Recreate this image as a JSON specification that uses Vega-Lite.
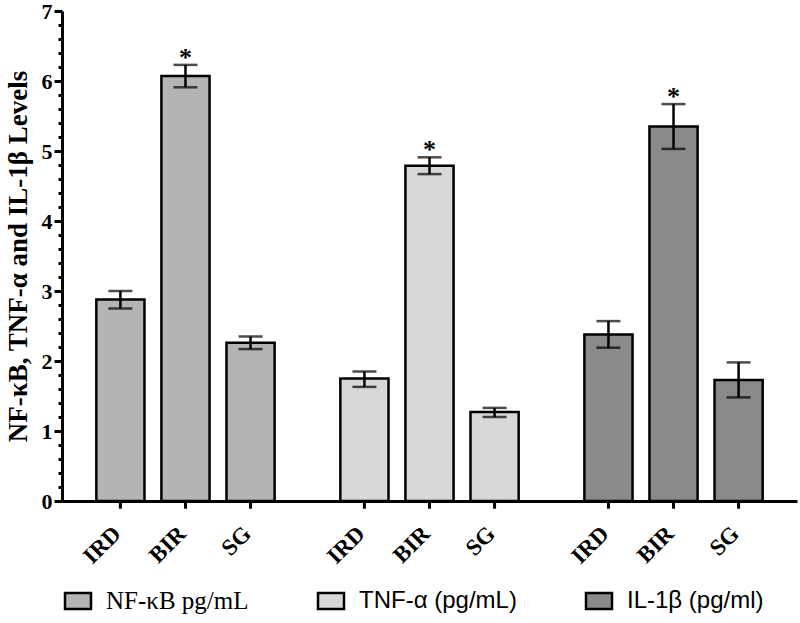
{
  "$schema": "https://vega.github.io/schema/vega-lite/v6.json",
  "autosize": {"type": "none"},
  "width": 735,
  "height": 490,
  "padding": {"left": 62, "top": 11, "right": 3, "bottom": 122},
  "background": "white",
  "config": {"view": {"stroke": null}, "font": "Liberation Serif"},
  "data": {
    "values": [
      {"cytokine": "NF-κB pg/mL", "group": "IRD", "mean": 2.88, "lo": 2.75, "hi": 3.00},
      {"cytokine": "NF-κB pg/mL", "group": "BIR", "mean": 6.07, "lo": 5.91, "hi": 6.23},
      {"cytokine": "NF-κB pg/mL", "group": "SG", "mean": 2.26, "lo": 2.17, "hi": 2.35},
      {"cytokine": "TNF-α (pg/mL)", "group": "IRD", "mean": 1.75, "lo": 1.63, "hi": 1.85},
      {"cytokine": "TNF-α (pg/mL)", "group": "BIR", "mean": 4.79, "lo": 4.67, "hi": 4.91},
      {"cytokine": "TNF-α (pg/mL)", "group": "SG", "mean": 1.27, "lo": 1.20, "hi": 1.33},
      {"cytokine": "IL-1β (pg/ml)", "group": "IRD", "mean": 2.38, "lo": 2.19, "hi": 2.57},
      {"cytokine": "IL-1β (pg/ml)", "group": "BIR", "mean": 5.35, "lo": 5.03, "hi": 5.67},
      {"cytokine": "IL-1β (pg/ml)", "group": "SG", "mean": 1.73, "lo": 1.48, "hi": 1.98}
    ]
  },
  "encoding": {
    "x": {
      "field": "cytokine", "type": "nominal",
      "scale": {"domain": ["NF-κB pg/mL", "TNF-α (pg/mL)", "IL-1β (pg/ml)"], "paddingInner": 0.2, "paddingOuter": 0.106},
      "axis": {"labels": false, "ticks": false, "title": null, "domainWidth": 3, "domainColor": "black"}
    },
    "xOffset": {
      "field": "group", "type": "nominal",
      "scale": {"domain": ["IRD", "BIR", "SG"], "paddingInner": 0.26, "paddingOuter": 0.13}
    }
  },
  "resolve": {"axis": {"y": "independent"}},
  "layer": [
    {
      "layer": [
        {
          "mark": {"type": "bar", "stroke": "black", "strokeWidth": 2.5},
          "encoding": {
            "y": {
              "field": "mean", "type": "quantitative",
              "scale": {"domain": [0, 7], "nice": false},
              "axis": {
                "orient": "left",
                "values": [0, 1, 2, 3, 4, 5, 6, 7],
                "format": "d",
                "tickSize": 8, "tickWidth": 3, "tickColor": "black",
                "domainWidth": 3, "domainColor": "black",
                "labelFont": "Liberation Serif", "labelFontWeight": "bold", "labelFontSize": 22, "labelColor": "black",
                "labelPadding": 2, "labelOverlap": false,
                "grid": false,
                "title": "NF-κB, TNF-α and IL-1β Levels",
                "titleFont": "Liberation Serif", "titleFontSize": 27, "titleFontWeight": "bold", "titleColor": "black",
                "titlePadding": 9
              }
            },
            "fill": {
              "field": "cytokine", "type": "nominal",
              "scale": {"domain": ["NF-κB pg/mL", "TNF-α (pg/mL)", "IL-1β (pg/ml)"], "range": ["#b4b4b4", "#d8d8d8", "#8a8a8a"]},
              "legend": {
                "title": null, "orient": "none", "legendX": 4, "legendY": 578, "direction": "horizontal",
                "columnPadding": 64,
                "symbolType": "M-1.625,-1H1.625V1H-1.625Z", "symbolSize": 256,
                "symbolStrokeColor": "black", "symbolStrokeWidth": 2.5, "symbolOpacity": 1,
                "labelColor": "black", "labelOffset": 16, "labelLimit": 400,
                "encode": {
                  "labels": {
                    "update": {
                      "font": {"signal": "datum.label === 'NF-κB pg/mL' ? 'Liberation Serif' : 'Liberation Sans'"},
                      "fontSize": {"signal": "datum.label === 'NF-κB pg/mL' ? 25 : 24"}
                    }
                  }
                }
              }
            }
          }
        },
        {
          "mark": {"type": "rule", "color": "black", "strokeWidth": 2.5},
          "encoding": {"y": {"field": "lo", "type": "quantitative"}, "y2": {"field": "hi"}}
        },
        {
          "mark": {"type": "tick", "color": "black", "thickness": 2.5, "size": 24},
          "encoding": {"y": {"field": "hi", "type": "quantitative"}}
        },
        {
          "mark": {"type": "tick", "color": "black", "thickness": 2.5, "size": 24},
          "encoding": {"y": {"field": "lo", "type": "quantitative"}}
        },
        {
          "mark": {"type": "text", "font": "Liberation Serif", "fontWeight": "bold", "fontSize": 23, "angle": -45, "align": "right", "baseline": "middle", "dx": -23, "dy": 18.5, "color": "black"},
          "encoding": {"y": {"datum": 0}, "text": {"field": "group"}}
        },
        {
          "transform": [{"filter": "datum.group === 'BIR'"}],
          "mark": {"type": "text", "font": "Liberation Serif", "fontWeight": "bold", "fontSize": 26, "baseline": "alphabetic", "dy": 1, "color": "black"},
          "encoding": {"y": {"field": "hi", "type": "quantitative"}, "text": {"value": "*"}}
        }
      ]
    },
    {
      "mark": {"type": "rule", "color": "black", "strokeWidth": 3},
      "encoding": {
        "y": {
          "datum": 0, "type": "quantitative",
          "axis": {
            "orient": "left", "offset": 0,
            "values": [0.2,0.4,0.6,0.8,1.2,1.4,1.6,1.8,2.2,2.4,2.6,2.8,3.2,3.4,3.6,3.8,4.2,4.4,4.6,4.8,5.2,5.4,5.6,5.8,6.2,6.4,6.6,6.8],
            "labels": false, "domain": false, "grid": false, "title": null,
            "tickSize": 4, "tickWidth": 3, "tickColor": "black"
          }
        },
        "y2": {"datum": -0.11}
      }
    }
  ]
}
